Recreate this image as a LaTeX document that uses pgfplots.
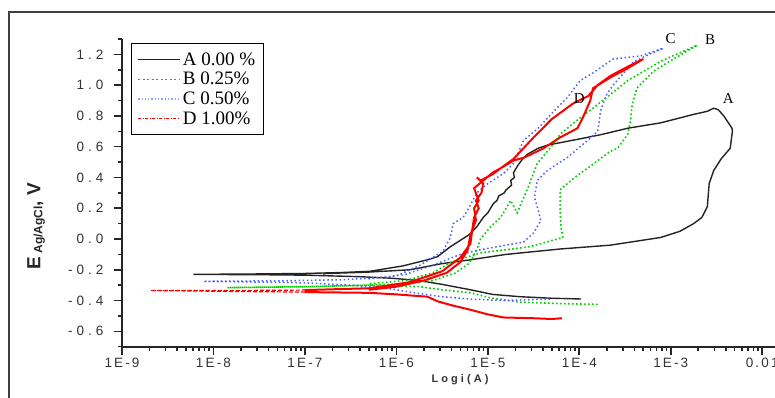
\documentclass[border=0pt]{standalone}
\usepackage{pgfplots}
\pgfplotsset{compat=1.18}
\usepackage{fontspec}
\setmainfont{Liberation Serif}
\newfontfamily\ticksf[LetterSpace=16]{Liberation Sans}
\newfontfamily\yticksf[LetterSpace=30]{Liberation Sans}
\newfontfamily\sansb{Liberation Sans}
\newfontfamily\xlabf[LetterSpace=28]{Liberation Sans}
\definecolor{cA}{RGB}{35,35,35}
\definecolor{cB}{RGB}{0,205,0}
\definecolor{cC}{RGB}{70,95,255}
\definecolor{cD}{RGB}{255,0,0}
\begin{document}
\begin{tikzpicture}[x=1pt,y=1pt]
\useasboundingbox (0,0) rectangle (775,398);
\draw[line width=1.6pt, black!75] (9,-20) rectangle (800,386);
\begin{axis}[
  at={(122pt,51.3pt)}, anchor=south west, scale only axis,
  width=653pt, height=307.7pt,
  xmin=-9, xmax=-1.86, ymin=-0.7, ymax=1.3,
  axis lines*=left,
  axis line style={line width=2pt, black!85},
  xtick={-9,-8,-7,-6,-5,-4,-3,-2},
  xticklabels={1E-9,1E-8,1E-7,1E-6,1E-5,1E-4,1E-3,0.01},
  minor xtick={-8.699,-8.523,-8.398,-8.301,-8.222,-8.155,-8.097,-8.046,
    -7.699,-7.523,-7.398,-7.301,-7.222,-7.155,-7.097,-7.046,
    -6.699,-6.523,-6.398,-6.301,-6.222,-6.155,-6.097,-6.046,
    -5.699,-5.523,-5.398,-5.301,-5.222,-5.155,-5.097,-5.046,
    -4.699,-4.523,-4.398,-4.301,-4.222,-4.155,-4.097,-4.046,
    -3.699,-3.523,-3.398,-3.301,-3.222,-3.155,-3.097,-3.046,
    -2.699,-2.523,-2.398,-2.301,-2.222,-2.155,-2.097,-2.046},
  ytick={-0.6,-0.4,-0.2,0,0.2,0.4,0.6,0.8,1.0,1.2},
  yticklabels={-0.6,-0.4,-0.2,0.0,0.2,0.4,0.6,0.8,1.0,1.2},
  minor ytick={-0.7,-0.5,-0.3,-0.1,0.1,0.3,0.5,0.7,0.9,1.1,1.3},
  tick align=outside,
  major tick length=8pt, minor tick length=4pt,
  every tick/.style={line width=1.6pt, black!85},
  xticklabel style={font=\ticksf\fontsize{13.5}{13.5}\selectfont, text=black!80},
  yticklabel style={font=\yticksf\fontsize{13.5}{13.5}\selectfont, text=black!80, xshift=-7pt},
  clip=false,
  legend style={at={(0.0138,0.987)}, anchor=north west, draw=black, line width=1.2pt,
    font=\fontsize{19}{19}\selectfont, row sep=1.5pt, inner xsep=6pt, inner ysep=7pt,
    nodes={inner sep=2pt}},
  legend cell align=left,
  legend image code/.code={\draw[#1] (0pt,0pt) -- (42pt,0pt);},
  every odd column/.append style={column sep=9pt},
]
% ---- A 0.00 %
\addplot[cA, line width=1.4pt, forget plot] coordinates {
(-3.98,-0.390) (-4.3,-0.385) (-4.65,-0.375) (-4.95,-0.36) (-5.19,-0.33) (-5.5,-0.295)
(-5.75,-0.27) (-6.05,-0.255) (-6.4,-0.245) (-7.0,-0.235) (-7.5,-0.232) (-8.22,-0.230)
(-7.5,-0.227) (-7.0,-0.224) (-6.6,-0.218) (-6.29,-0.21) (-5.93,-0.175) (-5.66,-0.135)
(-5.55,-0.115) (-5.41,-0.05) (-5.33,-0.02) (-5.20,0.03) (-5.12,0.08) (-5.05,0.14) (-5.0,0.17)
(-4.94,0.23) (-4.90,0.25) (-4.88,0.28) (-4.82,0.30) (-4.80,0.32) (-4.74,0.35) (-4.75,0.38)
(-4.71,0.40) (-4.72,0.43) (-4.67,0.48) (-4.62,0.52) (-4.57,0.55) (-4.45,0.59) (-4.35,0.61)
(-4.0,0.65) (-3.75,0.68) (-3.47,0.72) (-3.11,0.755) (-2.75,0.81) (-2.60,0.83) (-2.53,0.85)
(-2.48,0.84) (-2.42,0.80) (-2.33,0.72) (-2.326,0.70) (-2.35,0.59) (-2.45,0.52) (-2.53,0.445)
(-2.58,0.36) (-2.60,0.21) (-2.66,0.14) (-2.75,0.10) (-2.9,0.05) (-3.11,0.01) (-3.66,-0.04)
(-4.21,-0.065) (-4.8,-0.10) (-5.19,-0.135) (-5.5,-0.16) (-5.85,-0.20) (-6.3,-0.215) (-6.8,-0.225)
};
% ---- B 0.25 %
\addplot[cB, line width=1.6pt, dash pattern=on 1.6pt off 2.4pt, forget plot] coordinates {
(-3.80,-0.425) (-4.2,-0.42) (-4.65,-0.41) (-4.95,-0.385) (-5.19,-0.35) (-5.5,-0.33)
(-5.74,-0.31) (-6.29,-0.30) (-7.0,-0.31) (-7.85,-0.316)
(-7.0,-0.31) (-6.29,-0.30) (-5.9,-0.29) (-5.6,-0.27) (-5.35,-0.22) (-5.2,-0.155)
(-5.12,-0.07) (-5.08,0.0) (-4.97,0.08) (-4.86,0.14) (-4.75,0.25) (-4.68,0.17) (-4.57,0.32)
(-4.46,0.49) (-4.28,0.62) (-4.21,0.68) (-4.05,0.76) (-3.85,0.85) (-3.47,1.03) (-3.11,1.155)
(-2.71,1.26)
(-2.97,1.17) (-3.19,1.09) (-3.37,0.98) (-3.42,0.88) (-3.44,0.77) (-3.47,0.68) (-3.58,0.59)
(-3.66,0.57) (-3.91,0.46) (-4.05,0.40) (-4.21,0.32) (-4.21,0.20) (-4.20,0.08) (-4.18,0.01)
(-4.54,-0.05) (-5.08,-0.09) (-5.4,-0.15) (-5.6,-0.22) (-5.9,-0.27) (-6.3,-0.29)
};
% ---- C 0.50 %
\addplot[cC, line width=1.5pt, dash pattern=on 1.5pt off 2.6pt, forget plot] coordinates {
(-4.32,-0.39) (-4.6,-0.395) (-4.83,-0.40) (-5.2,-0.39) (-5.5,-0.375) (-5.8,-0.35)
(-6.1,-0.32) (-6.5,-0.30) (-7.0,-0.285) (-7.5,-0.28) (-8.11,-0.275)
(-7.3,-0.272) (-6.6,-0.265) (-6.29,-0.255) (-6.0,-0.24) (-5.74,-0.17) (-5.49,-0.08)
(-5.41,0.01) (-5.38,0.10) (-5.27,0.14) (-5.2,0.21) (-5.12,0.30) (-5.0,0.36) (-4.83,0.425)
(-4.72,0.49) (-4.61,0.64) (-4.45,0.72) (-4.28,0.83) (-4.13,0.92) (-3.99,1.03) (-3.85,1.08)
(-3.63,1.17) (-3.33,1.19) (-3.08,1.24)
(-3.2,1.21) (-3.41,1.15) (-3.63,1.0) (-3.70,0.94) (-3.77,0.83) (-3.78,0.77) (-3.80,0.70)
(-3.91,0.64) (-4.13,0.53) (-4.35,0.445) (-4.46,0.38) (-4.49,0.27) (-4.46,0.21) (-4.42,0.12)
(-4.50,0.04) (-4.61,-0.02) (-4.90,-0.05) (-5.08,-0.07) (-5.3,-0.10) (-5.6,-0.17)
(-5.9,-0.23) (-6.3,-0.26)
};
% ---- D 1.00 % (thin dashed low-current tail, then solid)
\addplot[cD, line width=1.2pt, dash pattern=on 4pt off 2pt, forget plot] coordinates {
(-7.0,-0.345) (-7.6,-0.342) (-8.69,-0.335) (-7.6,-0.334) (-7.0,-0.332)
};
\addplot[cD, line width=2pt, forget plot] coordinates {
(-4.19,-0.515) (-4.3,-0.52) (-4.5,-0.515) (-4.83,-0.51) (-5.0,-0.49) (-5.19,-0.46)
(-5.4,-0.43) (-5.55,-0.405) (-5.66,-0.375) (-6.0,-0.36) (-6.29,-0.35) (-7.0,-0.345)
};
\addplot[cD, line width=2pt, forget plot] coordinates {
(-7.0,-0.332) (-6.29,-0.32) (-5.85,-0.28) (-5.5,-0.21) (-5.3,-0.12) (-5.19,-0.03)
(-5.17,0.06) (-5.15,0.14) (-5.10,0.20) (-5.13,0.25) (-5.07,0.30) (-5.05,0.36) (-5.12,0.40)
(-5.08,0.38) (-4.95,0.42) (-4.86,0.46) (-4.72,0.52) (-4.50,0.66) (-4.3,0.78) (-4.07,0.88)
(-3.90,0.93) (-3.80,1.0) (-3.66,1.06) (-3.47,1.12) (-3.30,1.17)
(-3.47,1.11) (-3.66,1.05) (-3.85,0.98) (-3.88,0.90) (-3.96,0.79) (-4.02,0.72) (-4.21,0.66)
(-4.39,0.59) (-4.60,0.53) (-4.72,0.51) (-4.86,0.46) (-4.95,0.43) (-5.05,0.38) (-5.15,0.33)
(-5.10,0.25) (-5.15,0.20) (-5.13,0.12) (-5.19,0.03) (-5.22,-0.07) (-5.3,-0.15) (-5.45,-0.22)
(-5.7,-0.27) (-6.0,-0.31) (-6.3,-0.33)
};
\addlegendimage{draw=cA, line width=1.2pt}
\addlegendentry{A 0.00 \%}
\addlegendimage{draw=cB, line width=1.2pt, dash pattern=on 2pt off 2.5pt}
\addlegendentry{B 0.25\%}
\addlegendimage{draw=cC!60, line width=1.3pt, dash pattern=on 1.3pt off 2pt}
\addlegendentry{C 0.50\%}
\addlegendimage{draw=cD, line width=1pt, dash pattern=on 3pt off 1.5pt on 1pt off 1.5pt}
\addlegendentry{D 1.00\%}
\node[font=\fontsize{15}{15}\selectfont] at (axis cs:-3.00,1.30) {C};
\node[font=\fontsize{15}{15}\selectfont] at (axis cs:-2.57,1.295) {B};
\node[font=\fontsize{15}{15}\selectfont] at (axis cs:-2.37,0.91) {A};
\node[font=\fontsize{15}{15}\selectfont] at (axis cs:-4.0,0.91) {D};
\end{axis}
\node[rotate=90, text=black!85] at (36,172) {\sansb\bfseries\fontsize{19}{19}\selectfont E\,\raisebox{-2pt}{\fontsize{12}{12}\selectfont Ag/AgCl}, V};
\node[text=black!80] at (460,18) {\xlabf\bfseries\fontsize{11}{11}\selectfont Logi(A)};
\end{tikzpicture}
\end{document}
